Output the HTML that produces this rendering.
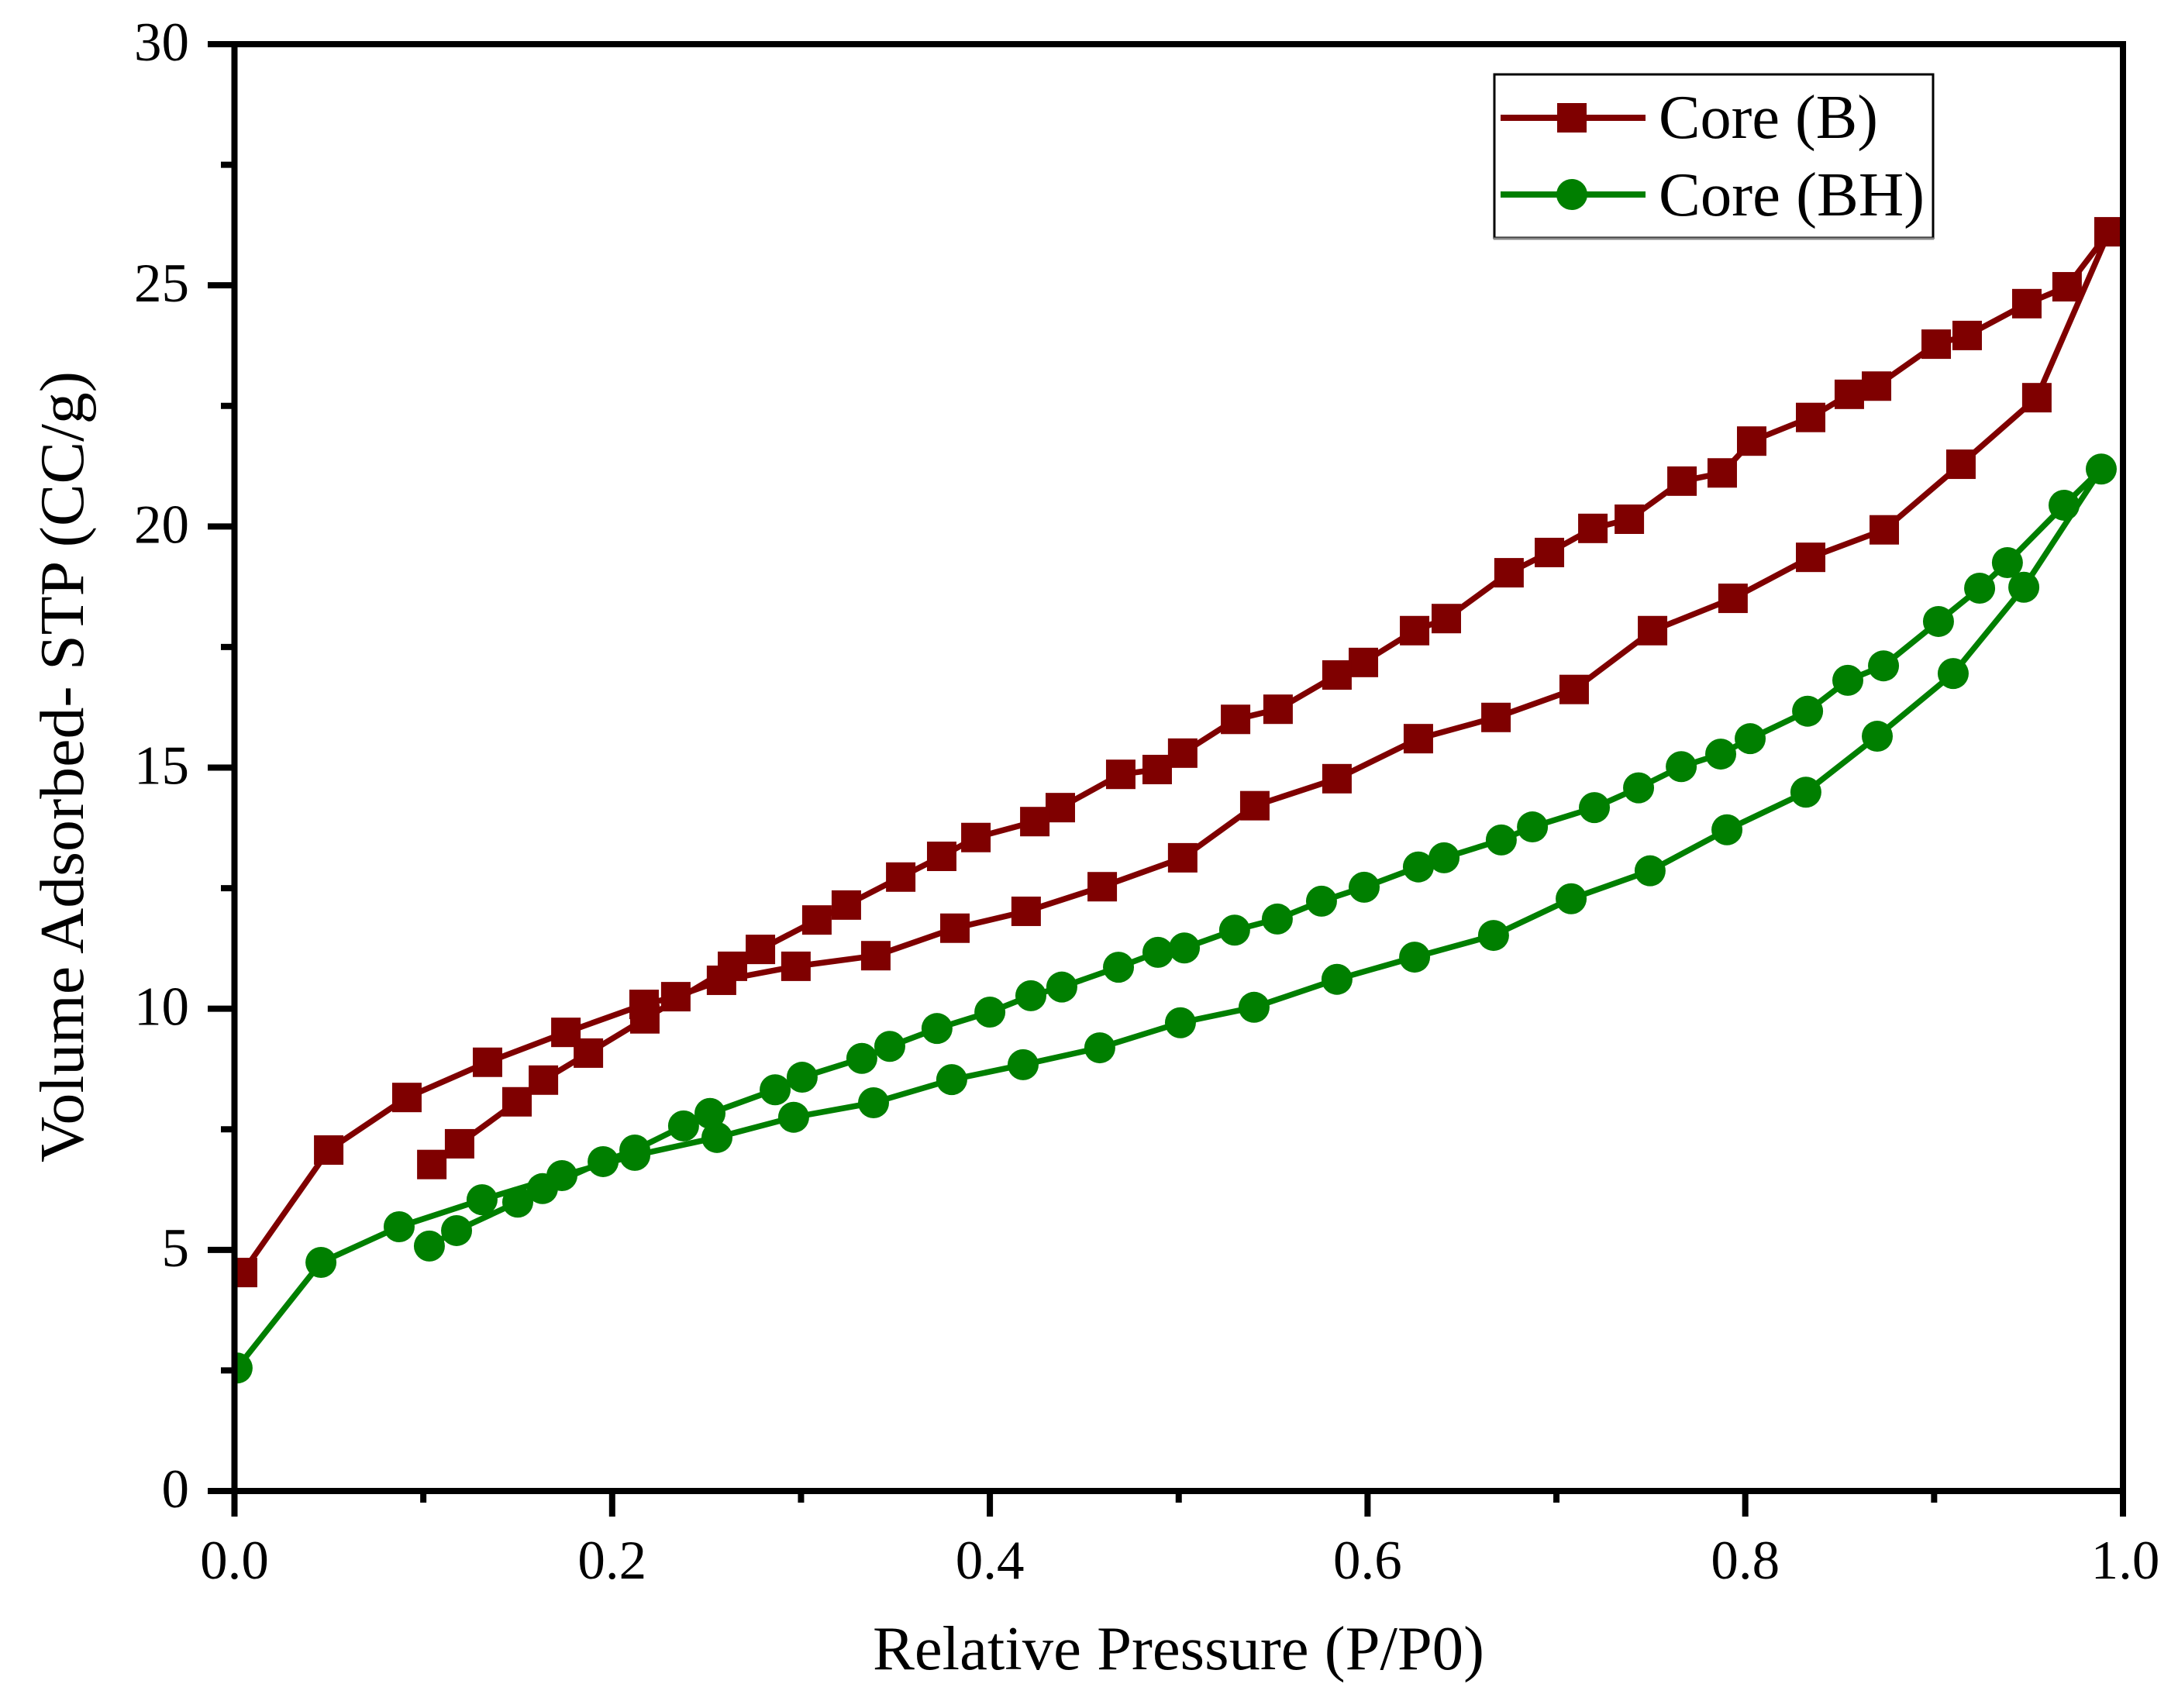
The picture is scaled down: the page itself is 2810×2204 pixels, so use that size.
<!DOCTYPE html>
<html lang="en">
<head>
<meta charset="utf-8">
<title>Adsorption isotherms: Core (B) and Core (BH)</title>
<style>
html,body{margin:0;padding:0;background:#fff;width:2810px;height:2204px;overflow:hidden}
svg{display:block}
text{font-family:"Liberation Serif","Times New Roman",serif;fill:#000}
</style>
</head>
<body>
<svg id="chart" xmlns="http://www.w3.org/2000/svg" width="2810" height="2204" viewBox="0 0 2810 2204">
  <defs><clipPath id="plot-clip"><rect x="302" y="57" width="2437" height="1867"></rect></clipPath></defs>
  <rect x="0" y="0" width="2810" height="2204" fill="#fff"></rect>
  <g id="series-layer" clip-path="url(#plot-clip)"></g>
  <g id="axis-layer"></g>
  <text x="1126" y="2154" font-size="80.6" textLength="789" lengthAdjust="spacingAndGlyphs">Relative Pressure (P/P0)</text>
  <text transform="translate(107 1500) rotate(-90)" x="0" y="0" font-size="80.4" textLength="1021" lengthAdjust="spacingAndGlyphs">Volume Adsorbed- STP (CC/g)</text>
  <g>
    <rect x="1928" y="96" width="566" height="211" fill="#fff" stroke="#000" stroke-width="3"></rect>
    <line x1="1927" y1="308" x2="2495" y2="308" stroke="#888" stroke-width="3"></line>
    <g>
      <line x1="1936" y1="152" x2="2123" y2="152" stroke="#7f0000" stroke-width="8"></line>
      <rect x="2009" y="133" width="38" height="38" fill="#7f0000"></rect>
      <text x="2140" y="178" font-size="80" textLength="283" lengthAdjust="spacingAndGlyphs">Core (B)</text>
    </g>
    <g>
      <line x1="1936" y1="251" x2="2123" y2="251" stroke="#007f00" stroke-width="8"></line>
      <circle cx="2028" cy="251" r="20" fill="#007f00"></circle>
      <text x="2140" y="278" font-size="80" textLength="343" lengthAdjust="spacingAndGlyphs">Core (BH)</text>
    </g>
  </g>
</svg>
<script>
const coreBPressure = [0.0043,0.0499,0.0913,0.1340,0.1755,0.2169,0.2337,0.2579,0.2973,0.3396,0.3815,0.4192,0.4595,0.5021,0.5403,0.5838,0.6269,0.6680,0.7094,0.7509,0.7935,0.8346,0.8736,0.9142,0.9544,0.9926,0.9704,0.9491,0.9175,0.9011,0.8695,0.8551,0.8346,0.8034,0.7878,0.7665,0.7386,0.7193,0.6963,0.6749,0.6417,0.6249,0.5978,0.5838,0.5526,0.5301,0.5021,0.4886,0.4693,0.4373,0.4238,0.3926,0.3745,0.3528,0.3240,0.3084,0.2785,0.2637,0.2173,0.1874,0.1636,0.1496,0.1192,0.1045];
const coreBVolume = [4.53,7.07,8.16,8.89,9.51,10.09,10.25,10.59,10.88,11.10,11.67,12.02,12.53,13.13,14.21,14.77,15.60,16.04,16.62,17.84,18.51,19.36,19.93,21.29,22.67,26.11,24.97,24.62,23.96,23.78,22.91,22.74,22.26,21.77,21.11,20.94,20.15,19.96,19.46,19.04,18.09,17.84,17.18,16.92,16.21,16.00,15.30,14.96,14.86,14.17,13.88,13.55,13.16,12.73,12.15,11.84,11.23,10.88,9.79,9.08,8.52,8.07,7.20,6.77];
const coreBHPressure = [0.0014,0.0458,0.0872,0.1311,0.1734,0.2120,0.2555,0.2961,0.3384,0.3798,0.4176,0.4582,0.5009,0.5399,0.5838,0.6249,0.6667,0.7078,0.7496,0.7903,0.8321,0.8699,0.9101,0.9475,0.9885,0.9688,0.9388,0.9241,0.9023,0.8732,0.8543,0.8330,0.8026,0.7870,0.7661,0.7435,0.7201,0.6873,0.6708,0.6405,0.6269,0.5982,0.5756,0.5522,0.5296,0.5030,0.4890,0.4681,0.4381,0.4217,0.4000,0.3720,0.3470,0.3322,0.3006,0.2863,0.2518,0.2378,0.2120,0.1952,0.1631,0.1500,0.1176,0.1032];
const coreBHVolume = [2.55,4.74,5.48,6.04,6.54,6.96,7.33,7.75,8.05,8.53,8.84,9.19,9.71,10.03,10.61,11.07,11.52,12.28,12.86,13.71,14.49,15.65,16.95,18.74,21.19,20.44,19.25,18.72,18.03,17.11,16.81,16.17,15.60,15.28,15.02,14.58,14.17,13.77,13.50,13.13,12.94,12.52,12.23,11.86,11.63,11.26,11.17,10.86,10.45,10.27,9.93,9.59,9.22,8.97,8.58,8.32,7.83,7.57,7.07,6.83,6.27,5.99,5.40,5.08];
const xMajorTicks = [0, 0.2, 0.4, 0.6, 0.8, 1];
const xMinorTicks = [0.1, 0.3, 0.5, 0.7, 0.9];
const xTickLabels = ["0.0", "0.2", "0.4", "0.6", "0.8", "1.0"];
const yMajorTicks = [0, 5, 10, 15, 20, 25, 30];
const yMinorTicks = [2.5, 7.5, 12.5, 17.5, 22.5, 27.5];
const yTickLabels = ["0", "5", "10", "15", "20", "25", "30"];

const NS = "http://www.w3.org/2000/svg";
function xScale(v) { return 302.5 + v * 2436.5; }
function yScale(v) { return 1924 - v * 62.233; }
function make(tag, attrs, parent) {
  const el = document.createElementNS(NS, tag);
  for (const k in attrs) el.setAttribute(k, attrs[k]);
  parent.appendChild(el);
  return el;
}

const seriesLayer = document.getElementById("series-layer");

function drawSeries(xs, ys, color, marker, key) {
  const group = make("g", {}, seriesLayer);
  
  
  const pts = xs.map((v, i) => xScale(v).toFixed(1) + "," + yScale(ys[i]).toFixed(1)).join(" ");
  const line = make("polyline", { points: pts, fill: "none", stroke: color, "stroke-width": 7.5, "stroke-linejoin": "round" }, group);
  
  
  xs.forEach((v, i) => {
    const cx = xScale(v), cy = yScale(ys[i]);
    let m;
    if (marker === "square") {
      m = make("rect", { x: cx - 19, y: cy - 19, width: 38, height: 38, fill: color }, group);
    } else {
      m = make("circle", { cx: cx, cy: cy, r: 20, fill: color }, group);
    }
    
    
  });
}
drawSeries(coreBPressure, coreBVolume, "#7f0000", "square", "core-b");
drawSeries(coreBHPressure, coreBHVolume, "#007f00", "circle", "core-bh");

const axisLayer = document.getElementById("axis-layer");
function axisLine(x1, y1, x2, y2, name) {
  const el = make("line", { x1: x1, y1: y1, x2: x2, y2: y2, stroke: "#000", "stroke-width": 8 }, axisLayer);
  
  
}
axisLine(xScale(0), 57, xScale(0), 1924, "y-axis-line");
axisLine(xScale(1), 57, xScale(1), 1924, "right-axis-line");
axisLine(xScale(0), yScale(30), 2743, yScale(30), "top-axis-line");
axisLine(xScale(0), yScale(0), 2743, yScale(0), "x-axis-line");

xMajorTicks.forEach((v, i) => {
  axisLine(xScale(v), 1924, xScale(v), 1957, "x-major-tick");
  const t = make("text", { x: xScale(v) + (i === xMajorTicks.length - 1 ? 3 : 0), y: 2037, "font-size": 71, "text-anchor": "middle" }, axisLayer);
  t.textContent = xTickLabels[i];
  
  
});
xMinorTicks.forEach(v => axisLine(xScale(v), 1924, xScale(v), 1939, "x-minor-tick"));
yMajorTicks.forEach((v, i) => {
  axisLine(268, yScale(v), xScale(0), yScale(v), "y-major-tick");
  const t = make("text", { x: 244, y: yScale(v) + 21, "font-size": 71, "text-anchor": "end" }, axisLayer);
  t.textContent = yTickLabels[i];
  
  
});
yMinorTicks.forEach(v => axisLine(285, yScale(v), xScale(0), yScale(v), "y-minor-tick"));
</script>
</body>
</html>
